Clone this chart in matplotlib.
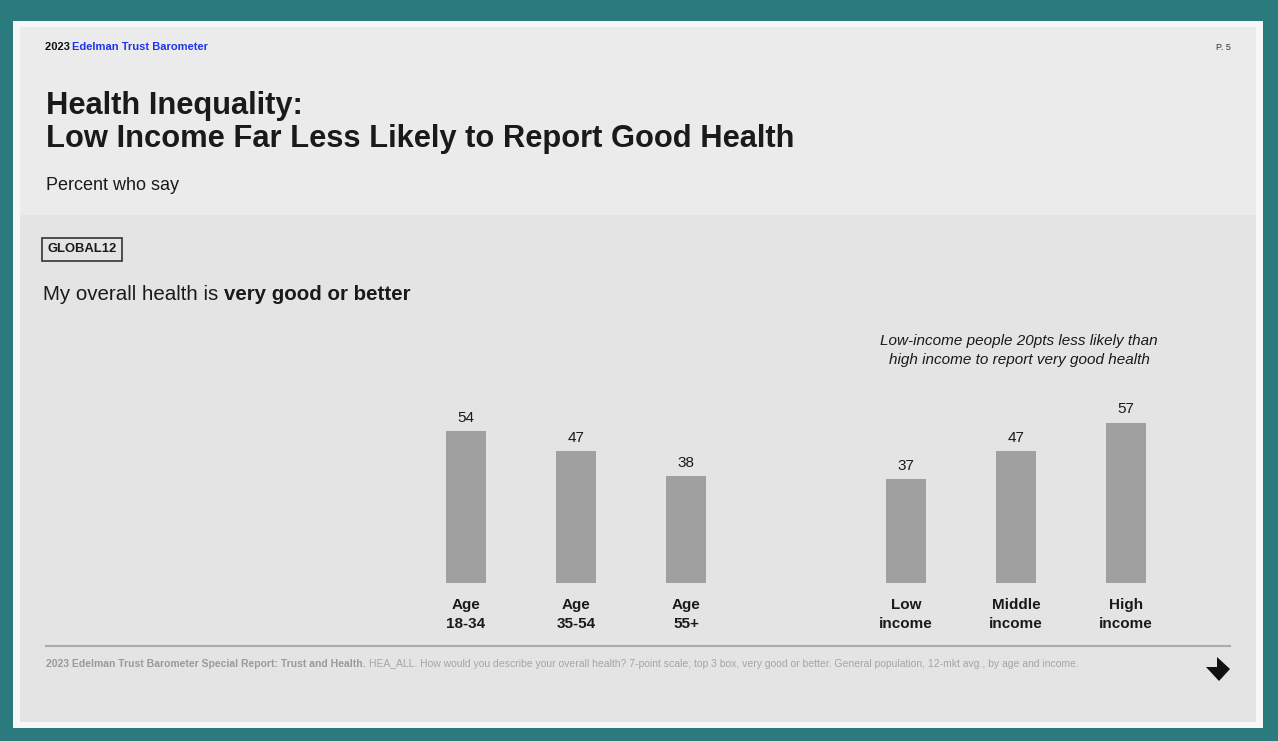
import matplotlib
matplotlib.use("Agg")
import matplotlib.pyplot as plt
from matplotlib.patches import Rectangle, Polygon
from matplotlib.lines import Line2D

# ---- data ----
categories = ["Age\n18-34", "Age\n35-54", "Age\n55+", "Low\nincome", "Middle\nincome", "High\nincome"]
values = [54, 47, 38, 37, 47, 57]
positions = [0, 1, 2, 4, 5, 6]

W, H = 1278, 741
fig = plt.figure(figsize=(W / 100, H / 100), dpi=100)
fig.patch.set_facecolor("#2b7a7e")

SANS = ["Liberation Sans", "DejaVu Sans"]
NARROW = ["Liberation Sans Narrow", "Liberation Sans", "DejaVu Sans"]

def fx(px):
    return px / W

def fy(py):
    return 1 - py / H

def rect(x0, y0, x1, y1, color, lw=0, ec=None, z=-10):
    r = Rectangle((fx(x0), fy(y1)), fx(x1) - fx(x0), fy(y0) - fy(y1),
                  transform=fig.transFigure, facecolor=color, edgecolor=ec or color,
                  linewidth=lw, zorder=z)
    fig.patches.append(r)
    return r

# panel
rect(13, 21, 1263, 728, "#f7f7f7", z=-12)
rect(20, 27, 1256, 722, "#e4e4e4", z=-11)
rect(20, 27, 1256, 215, "#ebebeb", z=-10)

renderer = fig.canvas.get_renderer()

def txt(px, py, s, **kw):
    kw.setdefault("family", SANS)
    return fig.text(fx(px), fy(py), s, transform=fig.transFigure, **kw)

def next_x(t):
    bb = t.get_window_extent(renderer=renderer)
    return bb.x1

# header
t1 = txt(45, 47, "2023 ", fontsize=8, fontweight="bold", color="#111111", va="center")
txt(next_x(t1) - 1.5, 47, "Edelman Trust Barometer", fontsize=8, fontweight="bold",
    color="#1f35e8", va="center")
txt(1231, 47, "P. 5", fontsize=6.5, color="#333333", va="center", ha="right")

txt(46, 106, "Health Inequality:", fontsize=22.2, fontweight="bold", color="#1a1a1a", va="center")
txt(46, 139, "Low Income Far Less Likely to Report Good Health", fontsize=22.2, fontweight="bold",
    color="#1a1a1a", va="center")
txt(46, 186, "Percent who say", fontsize=13, color="#1a1a1a", va="center")

# GLOBAL12 box
rect(42, 238, 122, 261, "none", lw=1.2, ec="#333333", z=2)
txt(82.5, 249.5, "GLOBAL12", fontsize=9.4, fontweight="bold", color="#1a1a1a", va="center",
    ha="center")

s1 = txt(43, 295, "My overall health is ", fontsize=14.8, color="#1a1a1a", va="center")
txt(next_x(s1), 295, "very good or better", fontsize=14.8, fontweight="bold", color="#1a1a1a",
    va="center")

# annotation
txt(1019, 341, "Low-income people 20pts less likely than", fontsize=11, style="italic",
    color="#1a1a1a", va="center", ha="center")
txt(1019, 360, "high income to report very good health", fontsize=11, style="italic",
    color="#1a1a1a", va="center", ha="center")

# ---- bars ----
px_per_x = 110.0
px_per_y = 2.815
x_left_px = 466 - 0.5 * px_per_x
x_right_px = 466 + 6.5 * px_per_x
base_px = 583
ytop = 65
ax = fig.add_axes([fx(x_left_px), fy(base_px), (x_right_px - x_left_px) / W, ytop * px_per_y / H])
ax.set_facecolor("none")
ax.bar(positions, values, width=0.372, color="#a0a0a0", edgecolor="none")
ax.set_xlim(-0.5, 6.5)
ax.set_ylim(0, ytop)
for p, v in zip(positions, values):
    ax.text(p, v + 2.2, str(v), ha="center", va="bottom", fontsize=11, color="#1a1a1a",
            family=SANS)
ax.set_xticks(positions)
ax.set_xticklabels(categories, fontsize=11, fontweight="bold", color="#1a1a1a",
                   family=SANS, linespacing=1.4)
ax.tick_params(axis="x", length=0, pad=11)
ax.set_yticks([])
for sp in ax.spines.values():
    sp.set_visible(False)

# footer
fig.lines.append(Line2D([fx(46), fx(1230)], [fy(646), fy(646)], transform=fig.transFigure,
                        color="#aaaaaa", linewidth=1.5))
f1 = txt(46, 664, "2023 Edelman Trust Barometer Special Report: Trust and Health.", fontsize=7.5,
         fontweight="bold", color="#9a9a9a", va="center", family=NARROW)
txt(next_x(f1) + 3, 664,
    "HEA_ALL. How would you describe your overall health? 7-point scale; top 3 box, very good or better. "
    "General population, 12-mkt avg., by age and income.",
    fontsize=7.5, color="#a5a5a5", va="center", family=NARROW)

arrow_px = [(1206, 667), (1217, 667), (1217, 657), (1230, 669), (1219, 681)]
fig.patches.append(Polygon([(fx(a), fy(b)) for a, b in arrow_px], closed=True,
                           transform=fig.transFigure, facecolor="#111111", edgecolor="none"))

fig.savefig("out.png", dpi=100, facecolor=fig.get_facecolor())
